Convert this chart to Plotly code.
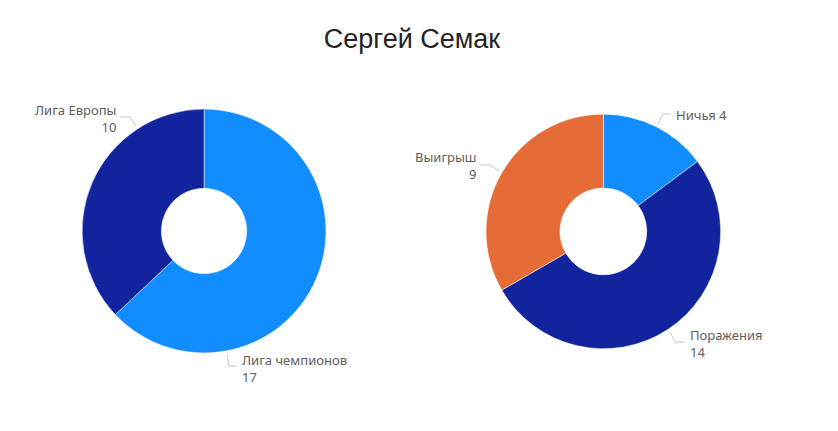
import plotly.graph_objects as go

# Data
title_text = "Сергей Семак"

tournament_labels = ["Лига чемпионов", "Лига Европы"]
tournament_values = [17, 10]

result_labels = ["Ничья", "Поражения", "Выигрыш"]
result_values = [4, 14, 9]

LIGHT_BLUE = "#118DFF"
DARK_BLUE = "#12239E"
ORANGE = "#E66C37"
LABEL_GREY = "#605E5C"
LEADER_GREY = "#C8C6C4"

W, H = 838, 431


def px(x, y):
    """pixel position -> paper coords"""
    return x / W, 1 - y / H


fig = go.Figure()

fig.add_trace(
    go.Pie(
        labels=tournament_labels,
        values=tournament_values,
        hole=0.35,
        sort=False,
        direction="clockwise",
        rotation=0,
        marker=dict(colors=[LIGHT_BLUE, DARK_BLUE], line=dict(color="white", width=0.5)),
        textinfo="none",
        domain=dict(x=[0.098, 0.389], y=[0.181, 0.747]),
        showlegend=False,
    )
)

fig.add_trace(
    go.Pie(
        labels=result_labels,
        values=result_values,
        hole=0.37,
        sort=False,
        direction="clockwise",
        rotation=0,
        marker=dict(colors=[LIGHT_BLUE, DARK_BLUE, ORANGE], line=dict(color="white", width=0.5)),
        textinfo="none",
        domain=dict(x=[0.58, 0.86], y=[0.19, 0.736]),
        showlegend=False,
    )
)

# data label placement (pixel anchor, side) + leader line path
label_layout = {
    "Лига чемпионов": ((240, 368), "left", [(227, 355), (229, 366), (237, 366)]),
    "Лига Европы": ((118, 119), "right", [(136, 126), (130, 117), (120, 117)]),
    "Ничья": ((674, 115), "left", [(658, 124), (663, 114), (671, 114)]),
    "Поражения": ((688, 343), "left", [(670, 332), (675, 342), (685, 342)]),
    "Выигрыш": ((478, 166), "right", [(499, 171), (490, 165), (480, 165)]),
}

all_labels = tournament_labels + result_labels
all_values = tournament_values + result_values

for lab, val in zip(all_labels, all_values):
    (ax, ay), side, path = label_layout[lab]
    text = f"{lab} {val}" if lab == "Ничья" else f"{lab}<br>{val}"
    x, y = px(ax, ay)
    fig.add_annotation(
        x=x, y=y, xref="paper", yref="paper",
        text=text, showarrow=False,
        xanchor=side, yanchor="middle", align=side,
        font=dict(size=13, color=LABEL_GREY),
    )
    d = ""
    for i, (lx, ly) in enumerate(path):
        qx, qy = px(lx, ly)
        d += ("M" if i == 0 else "L") + f" {qx} {qy} "
    fig.add_shape(
        type="path", path=d, xref="paper", yref="paper",
        line=dict(color=LEADER_GREY, width=1),
    )

fig.update_layout(
    width=W,
    height=H,
    paper_bgcolor="white",
    plot_bgcolor="white",
    margin=dict(l=0, r=0, t=0, b=0),
    font=dict(family="Noto Sans, Open Sans, sans-serif"),
    title=dict(
        text=title_text,
        x=412 / W,
        y=0.91,
        xanchor="center",
        yanchor="middle",
        font=dict(size=27, color="#252423", family="Liberation Sans, Arial, sans-serif"),
    ),
)

# drop the default page margin so the figure sits at the window corner
fig.write_html(
    "out.html",
    config={"displayModeBar": False},
    post_script="document.body.style.margin='0';",
)
